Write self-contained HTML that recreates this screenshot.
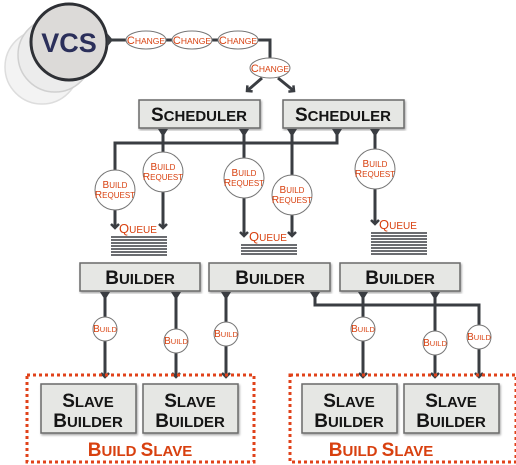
<!DOCTYPE html>
<html><head><meta charset="utf-8"><style>
html,body{margin:0;padding:0;background:#fff;}
svg{display:block;}
text{font-family:"Liberation Sans",sans-serif;}
.bx{fill:#e6e7e4;stroke:#6a6a6a;stroke-width:1.5;}
.t{font-weight:bold;fill:#151515;text-anchor:middle;}
.o{fill:#d8400f;text-anchor:middle;font-family:"Liberation Sans Narrow","Liberation Sans",sans-serif;}
.ln{stroke:#3a3d42;stroke-width:3;fill:none;}
.el{fill:#fff;stroke:#777;stroke-width:1;}
.q{stroke:#3a3d42;stroke-width:1.6;}
</style></head><body>
<svg width="516" height="465" viewBox="0 0 516 465" xmlns="http://www.w3.org/2000/svg">
<defs>
<marker id="ar" markerWidth="10" markerHeight="10" refX="5" refY="5" orient="auto" markerUnits="userSpaceOnUse">
<path d="M1,1 L5,5 L1,9" fill="none" stroke="#3a3d42" stroke-width="2.5"/>
</marker>
<filter id="sh"><feDropShadow dx="1" dy="1.5" stdDeviation="1" flood-opacity="0.35"/></filter>
</defs>
<circle cx="42" cy="67" r="37" fill="#f3f3f3" stroke="#ddd" stroke-width="1.5"/>
<circle cx="55" cy="55" r="37" fill="#ececec" stroke="#d0d0d0" stroke-width="1.5"/>
<circle cx="69" cy="42" r="38" fill="#dcdad8" stroke="#2e3035" stroke-width="3"/>
<text x="69" y="52" font-size="27" font-weight="bold" fill="#2b2f5a" text-anchor="middle">VCS</text>
<path class="ln" d="M108,40 L270,40 L270,60"/>
<path d="M107,33 L113,40 L107,47 Z" fill="#3a3d42"/>
<path class="ln" d="M262,78 L247,91" marker-end="url(#ar)"/>
<path class="ln" d="M278,78 L294,91" marker-end="url(#ar)"/>
<g font-size="11">
<ellipse class="el" cx="146" cy="40" rx="20" ry="9"/><text class="o" x="146" y="44">C<tspan font-size="8.5">HANGE</tspan></text>
<ellipse class="el" cx="192" cy="40" rx="20" ry="9"/><text class="o" x="192" y="44">C<tspan font-size="8.5">HANGE</tspan></text>
<ellipse class="el" cx="238" cy="40" rx="20" ry="9"/><text class="o" x="238" y="44">C<tspan font-size="8.5">HANGE</tspan></text>
<ellipse class="el" cx="270" cy="68" rx="20" ry="10"/><text class="o" x="270" y="72">C<tspan font-size="8.5">HANGE</tspan></text>
</g>
<rect class="bx" x="139" y="100" width="121" height="28" filter="url(#sh)"/>
<text class="t" x="199" y="121" font-size="19">S<tspan font-size="15">CHEDULER</tspan></text>
<rect class="bx" x="283" y="100" width="121" height="28" filter="url(#sh)"/>
<text class="t" x="343" y="121" font-size="19">S<tspan font-size="15">CHEDULER</tspan></text>
<path class="ln" d="M337,130 L337,143 L115,143 L115,228" marker-end="url(#ar)"/>
<path class="ln" d="M163,130 L163,228" marker-end="url(#ar)"/>
<path class="ln" d="M244,130 L244,236" marker-end="url(#ar)"/>
<path class="ln" d="M292,130 L292,236" marker-end="url(#ar)"/>
<path class="ln" d="M375,130 L375,224" marker-end="url(#ar)"/>
<g fill="#3a3d42">
<path d="M158,129 L168,129 L163,137Z"/><path d="M239,129 L249,129 L244,137Z"/>
<path d="M287,129 L297,129 L292,137Z"/><path d="M332,129 L342,129 L337,137Z"/><path d="M370,129 L380,129 L375,137Z"/>
</g>
<g font-size="10">
<circle class="el" cx="115" cy="190" r="20"/><text class="o" x="115" y="188">B<tspan font-size="8">UILD</tspan></text><text class="o" x="115" y="198">R<tspan font-size="8">EQUEST</tspan></text>
<circle class="el" cx="163" cy="172" r="20"/><text class="o" x="163" y="170">B<tspan font-size="8">UILD</tspan></text><text class="o" x="163" y="180">R<tspan font-size="8">EQUEST</tspan></text>
<circle class="el" cx="244" cy="178" r="20"/><text class="o" x="244" y="176">B<tspan font-size="8">UILD</tspan></text><text class="o" x="244" y="186">R<tspan font-size="8">EQUEST</tspan></text>
<circle class="el" cx="292" cy="195" r="20"/><text class="o" x="292" y="193">B<tspan font-size="8">UILD</tspan></text><text class="o" x="292" y="203">R<tspan font-size="8">EQUEST</tspan></text>
<circle class="el" cx="375" cy="169" r="20"/><text class="o" x="375" y="167">B<tspan font-size="8">UILD</tspan></text><text class="o" x="375" y="177">R<tspan font-size="8">EQUEST</tspan></text>
</g>
<g class="q">
<line x1="111" y1="237" x2="167" y2="237"/><line x1="111" y1="240" x2="167" y2="240"/><line x1="111" y1="243" x2="167" y2="243"/><line x1="111" y1="246" x2="167" y2="246"/><line x1="111" y1="249" x2="167" y2="249"/><line x1="111" y1="252" x2="167" y2="252"/><line x1="111" y1="255" x2="167" y2="255"/>
<line x1="241" y1="245" x2="297" y2="245"/><line x1="241" y1="248" x2="297" y2="248"/><line x1="241" y1="251" x2="297" y2="251"/><line x1="241" y1="254" x2="297" y2="254"/>
<line x1="371" y1="233" x2="427" y2="233"/><line x1="371" y1="236" x2="427" y2="236"/><line x1="371" y1="239" x2="427" y2="239"/><line x1="371" y1="242" x2="427" y2="242"/><line x1="371" y1="245" x2="427" y2="245"/><line x1="371" y1="248" x2="427" y2="248"/><line x1="371" y1="251" x2="427" y2="251"/><line x1="371" y1="254" x2="427" y2="254"/>
</g>
<g font-size="13">
<text class="o" x="138" y="233">Q<tspan font-size="10">UEUE</tspan></text>
<text class="o" x="268" y="241">Q<tspan font-size="10">UEUE</tspan></text>
<text class="o" x="398" y="229">Q<tspan font-size="10">UEUE</tspan></text>
</g>
<rect class="bx" x="80" y="263" width="120" height="28" filter="url(#sh)"/>
<text class="t" x="140" y="284" font-size="19">B<tspan font-size="15">UILDER</tspan></text>
<rect class="bx" x="209" y="263" width="121" height="28" filter="url(#sh)"/>
<text class="t" x="270" y="284" font-size="19">B<tspan font-size="15">UILDER</tspan></text>
<rect class="bx" x="340" y="263" width="120" height="28" filter="url(#sh)"/>
<text class="t" x="400" y="284" font-size="19">B<tspan font-size="15">UILDER</tspan></text>
<path class="ln" d="M105,293 L105,377" marker-end="url(#ar)"/>
<path class="ln" d="M176,293 L176,377" marker-end="url(#ar)"/>
<path class="ln" d="M226,293 L226,377" marker-end="url(#ar)"/>
<path class="ln" d="M315,293 L315,305 L479,305 L479,377" marker-end="url(#ar)"/>
<path class="ln" d="M363,293 L363,377" marker-end="url(#ar)"/>
<path class="ln" d="M435,293 L435,377" marker-end="url(#ar)"/>
<g fill="#3a3d42">
<path d="M100,292 L110,292 L105,300Z"/><path d="M171,292 L181,292 L176,300Z"/><path d="M221,292 L231,292 L226,300Z"/>
<path d="M310,292 L320,292 L315,300Z"/><path d="M358,292 L368,292 L363,300Z"/><path d="M430,292 L440,292 L435,300Z"/>
</g>
<g font-size="10">
<circle class="el" cx="105" cy="329" r="12"/><text class="o" x="105" y="332">B<tspan font-size="7.5">UILD</tspan></text>
<circle class="el" cx="176" cy="341" r="12"/><text class="o" x="176" y="344">B<tspan font-size="7.5">UILD</tspan></text>
<circle class="el" cx="226" cy="334" r="12"/><text class="o" x="226" y="337">B<tspan font-size="7.5">UILD</tspan></text>
<circle class="el" cx="363" cy="329" r="12"/><text class="o" x="363" y="332">B<tspan font-size="7.5">UILD</tspan></text>
<circle class="el" cx="435" cy="343" r="12"/><text class="o" x="435" y="346">B<tspan font-size="7.5">UILD</tspan></text>
<circle class="el" cx="479" cy="337" r="12"/><text class="o" x="479" y="340">B<tspan font-size="7.5">UILD</tspan></text>
</g>
<rect x="27" y="375" width="227" height="87" fill="none" stroke="#e0421a" stroke-width="3" stroke-dasharray="3,3"/>
<rect x="290" y="375" width="226" height="87" fill="none" stroke="#e0421a" stroke-width="3" stroke-dasharray="3,3"/>
<rect class="bx" x="41" y="384" width="95" height="49" filter="url(#sh)"/>
<rect class="bx" x="143" y="384" width="95" height="49" filter="url(#sh)"/>
<rect class="bx" x="302" y="384" width="95" height="49" filter="url(#sh)"/>
<rect class="bx" x="404" y="384" width="95" height="49" filter="url(#sh)"/>
<g font-size="19">
<text class="t" x="88" y="407">S<tspan font-size="15">LAVE</tspan></text><text class="t" x="88" y="427">B<tspan font-size="15">UILDER</tspan></text>
<text class="t" x="190" y="407">S<tspan font-size="15">LAVE</tspan></text><text class="t" x="190" y="427">B<tspan font-size="15">UILDER</tspan></text>
<text class="t" x="349" y="407">S<tspan font-size="15">LAVE</tspan></text><text class="t" x="349" y="427">B<tspan font-size="15">UILDER</tspan></text>
<text class="t" x="451" y="407">S<tspan font-size="15">LAVE</tspan></text><text class="t" x="451" y="427">B<tspan font-size="15">UILDER</tspan></text>
</g>
<g font-size="19" font-weight="bold">
<text class="o" x="140" y="456" style="font-family:'Liberation Sans',sans-serif">B<tspan font-size="15">UILD </tspan>S<tspan font-size="15">LAVE</tspan></text>
<text class="o" x="381" y="456" style="font-family:'Liberation Sans',sans-serif">B<tspan font-size="15">UILD </tspan>S<tspan font-size="15">LAVE</tspan></text>
</g>
</svg>
</body></html>
